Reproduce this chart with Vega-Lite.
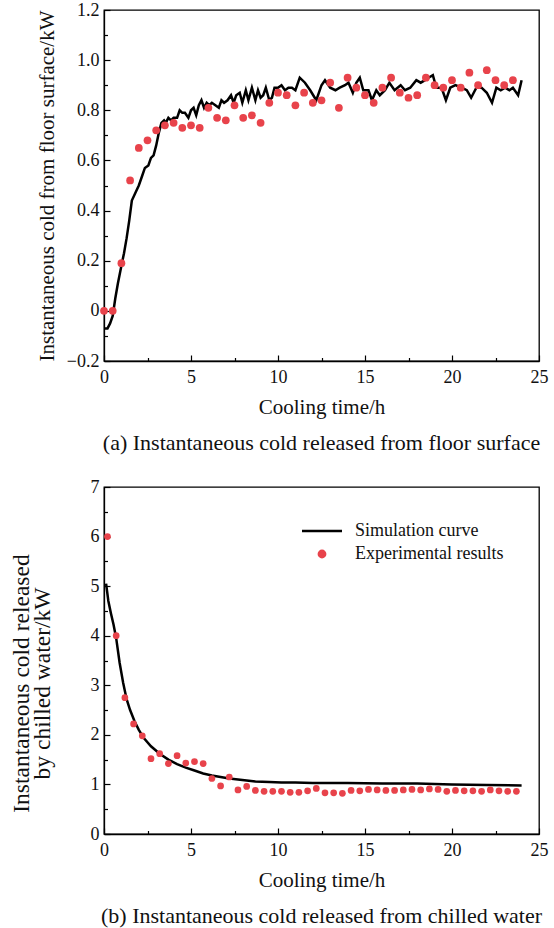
{
  "$schema": "https://vega.github.io/schema/vega-lite/v6.json",
  "padding": {"left": 8, "top": 0, "right": 5, "bottom": 0},
  "spacing": 22,
  "resolve": {"legend": {"color": "independent"}, "scale": {"color": "independent"}},
  "config": {
    "font": "Liberation Serif, Tinos, Times New Roman, DejaVu Serif, serif",
    "view": {"stroke": "black", "strokeWidth": 1.3},
    "axis": {"grid": false, "domainColor": "black", "domainWidth": 1.3, "tickColor": "black", "tickWidth": 1.2, "labelFont": "Liberation Serif, Tinos, Times New Roman, DejaVu Serif, serif", "labelFontSize": 18, "labelColor": "#111", "titleFont": "Liberation Serif, Tinos, Times New Roman, DejaVu Serif, serif", "titleFontSize": 21, "titleFontWeight": "normal", "titleColor": "#111", "labelOverlap": false, "labelFlush": false},
    "legend": {"labelFont": "Liberation Serif, Tinos, Times New Roman, DejaVu Serif, serif"},
    "title": {"font": "Liberation Serif, Tinos, Times New Roman, DejaVu Serif, serif", "fontSize": 22, "fontWeight": "normal", "color": "#111"}
  },
  "datasets": {
    "floor_sim": [
      {"t":0,"q":-0.07},{"t":0.2,"q":-0.07},{"t":0.35,"q":-0.05},{"t":0.5,"q":-0.02},{"t":0.65,"q":0.05},{"t":0.8,"q":0.11},{"t":1.0,"q":0.18},{"t":1.15,"q":0.23},{"t":1.3,"q":0.29},{"t":1.45,"q":0.36},{"t":1.6,"q":0.44},{"t":1.8,"q":0.47},{"t":2.0,"q":0.5},{"t":2.2,"q":0.54},{"t":2.35,"q":0.57},{"t":2.55,"q":0.58},{"t":2.7,"q":0.61},{"t":2.85,"q":0.62},{"t":3.0,"q":0.66},{"t":3.15,"q":0.71},{"t":3.3,"q":0.75},{"t":3.45,"q":0.76},{"t":3.55,"q":0.75},{"t":3.7,"q":0.77},{"t":3.85,"q":0.76},{"t":4.0,"q":0.77},{"t":4.2,"q":0.77},{"t":4.35,"q":0.8},{"t":4.5,"q":0.79},{"t":4.65,"q":0.79},{"t":4.85,"q":0.77},{"t":5.0,"q":0.8},{"t":5.15,"q":0.81},{"t":5.3,"q":0.78},{"t":5.45,"q":0.82},{"t":5.6,"q":0.84},{"t":5.75,"q":0.81},{"t":5.9,"q":0.83},{"t":6.05,"q":0.82},{"t":6.2,"q":0.83},{"t":6.4,"q":0.82},{"t":6.6,"q":0.81},{"t":6.75,"q":0.84},{"t":6.9,"q":0.83},{"t":7.1,"q":0.84},{"t":7.3,"q":0.86},{"t":7.45,"q":0.83},{"t":7.6,"q":0.86},{"t":7.8,"q":0.87},{"t":7.95,"q":0.83},{"t":8.15,"q":0.88},{"t":8.3,"q":0.84},{"t":8.5,"q":0.89},{"t":8.7,"q":0.84},{"t":8.85,"q":0.88},{"t":9.0,"q":0.85},{"t":9.15,"q":0.86},{"t":9.3,"q":0.89},{"t":9.5,"q":0.84},{"t":9.65,"q":0.85},{"t":9.8,"q":0.89},{"t":10.0,"q":0.89},{"t":10.2,"q":0.9},{"t":10.4,"q":0.88},{"t":10.6,"q":0.89},{"t":10.8,"q":0.89},{"t":11.0,"q":0.88},{"t":11.25,"q":0.93},{"t":11.55,"q":0.91},{"t":11.85,"q":0.88},{"t":12.2,"q":0.84},{"t":12.5,"q":0.9},{"t":12.7,"q":0.92},{"t":13.0,"q":0.89},{"t":13.3,"q":0.88},{"t":13.55,"q":0.89},{"t":13.85,"q":0.9},{"t":14.05,"q":0.91},{"t":14.3,"q":0.87},{"t":14.5,"q":0.91},{"t":14.7,"q":0.93},{"t":14.9,"q":0.88},{"t":15.2,"q":0.88},{"t":15.4,"q":0.84},{"t":15.65,"q":0.88},{"t":15.85,"q":0.86},{"t":16.15,"q":0.88},{"t":16.4,"q":0.91},{"t":16.7,"q":0.88},{"t":17.05,"q":0.9},{"t":17.3,"q":0.88},{"t":17.6,"q":0.89},{"t":17.95,"q":0.92},{"t":18.2,"q":0.91},{"t":18.45,"q":0.92},{"t":18.65,"q":0.93},{"t":18.9,"q":0.94},{"t":19.1,"q":0.89},{"t":19.4,"q":0.89},{"t":19.65,"q":0.84},{"t":19.9,"q":0.89},{"t":20.2,"q":0.9},{"t":20.55,"q":0.89},{"t":20.85,"q":0.88},{"t":21.1,"q":0.85},{"t":21.4,"q":0.89},{"t":21.7,"q":0.89},{"t":22.0,"q":0.87},{"t":22.3,"q":0.83},{"t":22.55,"q":0.89},{"t":22.8,"q":0.88},{"t":23.05,"q":0.89},{"t":23.3,"q":0.88},{"t":23.5,"q":0.89},{"t":23.8,"q":0.86},{"t":24.0,"q":0.92}
    ],
    "floor_exp": [
      {"t":0,"q":0},{"t":0.5,"q":0},{"t":1.0,"q":0.19},{"t":1.5,"q":0.52},{"t":2.0,"q":0.65},{"t":2.5,"q":0.68},{"t":3.0,"q":0.72},{"t":3.5,"q":0.74},{"t":4.0,"q":0.75},{"t":4.5,"q":0.73},{"t":5.0,"q":0.74},{"t":5.5,"q":0.73},{"t":6.0,"q":0.81},{"t":6.5,"q":0.77},{"t":7.0,"q":0.76},{"t":7.5,"q":0.82},{"t":8.0,"q":0.77},{"t":8.5,"q":0.78},{"t":9.0,"q":0.75},{"t":9.5,"q":0.83},{"t":10.0,"q":0.87},{"t":10.5,"q":0.86},{"t":11.0,"q":0.82},{"t":11.5,"q":0.87},{"t":12.0,"q":0.83},{"t":12.5,"q":0.84},{"t":13.0,"q":0.91},{"t":13.5,"q":0.81},{"t":14.0,"q":0.93},{"t":14.5,"q":0.89},{"t":15.0,"q":0.86},{"t":15.5,"q":0.83},{"t":16.0,"q":0.89},{"t":16.5,"q":0.93},{"t":17.0,"q":0.87},{"t":17.5,"q":0.85},{"t":18.0,"q":0.86},{"t":18.5,"q":0.93},{"t":19.0,"q":0.9},{"t":19.5,"q":0.89},{"t":20.0,"q":0.92},{"t":20.5,"q":0.89},{"t":21.0,"q":0.95},{"t":21.5,"q":0.9},{"t":22.0,"q":0.96},{"t":22.5,"q":0.92},{"t":23.0,"q":0.9},{"t":23.5,"q":0.92}
    ],
    "water_sim": [
      {"t":0.12,"q":5.05},{"t":0.25,"q":4.7},{"t":0.4,"q":4.45},{"t":0.55,"q":4.22},{"t":0.7,"q":3.95},{"t":0.9,"q":3.45},{"t":1.1,"q":3.05},{"t":1.3,"q":2.72},{"t":1.5,"q":2.5},{"t":1.75,"q":2.28},{"t":2.0,"q":2.1},{"t":2.3,"q":1.93},{"t":2.7,"q":1.77},{"t":3.2,"q":1.62},{"t":3.7,"q":1.5},{"t":4.2,"q":1.41},{"t":4.7,"q":1.34},{"t":5.2,"q":1.28},{"t":5.7,"q":1.22},{"t":6.2,"q":1.18},{"t":6.7,"q":1.15},{"t":7.2,"q":1.12},{"t":7.7,"q":1.1},{"t":8.2,"q":1.08},{"t":8.7,"q":1.06},{"t":9.5,"q":1.05},{"t":10.2,"q":1.04},{"t":11.0,"q":1.04},{"t":12.0,"q":1.03},{"t":14.0,"q":1.03},{"t":16.0,"q":1.02},{"t":18.0,"q":1.02},{"t":20.0,"q":1.0},{"t":22.0,"q":0.99},{"t":24.0,"q":0.98}
    ],
    "water_exp": [
      {"t":0.2,"q":6.0},{"t":0.7,"q":4.0},{"t":1.2,"q":2.75},{"t":1.7,"q":2.22},{"t":2.2,"q":1.98},{"t":2.7,"q":1.52},{"t":3.2,"q":1.62},{"t":3.7,"q":1.42},{"t":4.2,"q":1.58},{"t":4.7,"q":1.43},{"t":5.2,"q":1.46},{"t":5.7,"q":1.42},{"t":6.2,"q":1.12},{"t":6.7,"q":0.97},{"t":7.2,"q":1.15},{"t":7.7,"q":0.89},{"t":8.2,"q":0.96},{"t":8.7,"q":0.88},{"t":9.2,"q":0.86},{"t":9.7,"q":0.86},{"t":10.2,"q":0.86},{"t":10.7,"q":0.84},{"t":11.2,"q":0.84},{"t":11.7,"q":0.87},{"t":12.2,"q":0.92},{"t":12.7,"q":0.83},{"t":13.2,"q":0.83},{"t":13.7,"q":0.82},{"t":14.2,"q":0.88},{"t":14.7,"q":0.87},{"t":15.2,"q":0.9},{"t":15.7,"q":0.89},{"t":16.2,"q":0.88},{"t":16.7,"q":0.88},{"t":17.2,"q":0.89},{"t":17.7,"q":0.9},{"t":18.2,"q":0.89},{"t":18.7,"q":0.91},{"t":19.2,"q":0.9},{"t":19.7,"q":0.86},{"t":20.2,"q":0.88},{"t":20.7,"q":0.87},{"t":21.2,"q":0.87},{"t":21.7,"q":0.86},{"t":22.2,"q":0.89},{"t":22.7,"q":0.87},{"t":23.2,"q":0.86},{"t":23.7,"q":0.86}
    ]
  },
  "vconcat": [
    {
      "width": 435,
      "height": 351,
      "title": {"text": "(a) Instantaneous cold released from floor surface", "orient": "bottom", "offset": 15},
      "encoding": {
        "x": {"field": "t", "type": "quantitative", "scale": {"domain": [0, 25], "nice": false},
          "axis": {"title": "Cooling time/h", "values": [0,2.5,5,7.5,10,12.5,15,17.5,20,22.5,25],
            "labelExpr": "datum.value % 5 === 0 ? datum.label : ''",
            "tickSize": {"condition": {"test": "datum.value % 5 !== 0", "value": -3.5}, "value": -6},
            "labelPadding": 13, "titlePadding": 8}},
        "y": {"field": "q", "type": "quantitative", "scale": {"domain": [-0.2, 1.2], "nice": false, "zero": false},
          "axis": {"title": "Instantaneous cold from floor surface/kW",
            "values": [-0.2,-0.1,0,0.1,0.2,0.3,0.4,0.5,0.6,0.7,0.8,0.9,1.0,1.1,1.2],
            "labelExpr": "abs(round(datum.value*10)) % 2 === 1 ? '' : (datum.value === 0 ? '0' : format(datum.value, '.1f'))",
            "tickSize": {"condition": {"test": "abs(round(datum.value*10)) % 2 === 1", "value": -3.5}, "value": -6},
            "labelPadding": 11, "titlePadding": 9}}
      },
      "layer": [
        {"data": {"name": "floor_sim"}, "mark": {"type": "line", "color": "black", "strokeWidth": 2.5}},
        {"data": {"name": "floor_exp"}, "mark": {"type": "circle", "color": "#e8434b", "size": 60, "opacity": 1}}
      ]
    },
    {
      "width": 435,
      "height": 347,
      "title": {"text": "(b) Instantaneous cold released from chilled water", "orient": "bottom", "offset": 15},
      "encoding": {
        "x": {"field": "t", "type": "quantitative", "scale": {"domain": [0, 25], "nice": false},
          "axis": {"title": "Cooling time/h", "values": [0,2.5,5,7.5,10,12.5,15,17.5,20,22.5,25],
            "labelExpr": "datum.value % 5 === 0 ? datum.label : ''",
            "tickSize": {"condition": {"test": "datum.value % 5 !== 0", "value": -3.5}, "value": -6},
            "labelPadding": 13, "titlePadding": 8}},
        "y": {"field": "q", "type": "quantitative", "scale": {"domain": [0, 7], "nice": false},
          "axis": {"title": ["Instantaneous cold released", "by chilled water/kW"], "titleFontSize": 23.5, "titleLineHeight": 21, "titleY": 196,
            "values": [0,0.5,1,1.5,2,2.5,3,3.5,4,4.5,5,5.5,6,6.5,7],
            "labelExpr": "datum.value % 1 === 0 ? format(datum.value, 'd') : ''",
            "tickSize": {"condition": {"test": "datum.value % 1 !== 0", "value": -3.5}, "value": -6},
            "labelPadding": 11, "titlePadding": 36}}
      },
      "layer": [
        {"data": {"name": "water_sim"}, "mark": {"type": "line", "strokeWidth": 2.5},
          "encoding": {"color": {"datum": "Simulation curve", "type": "nominal",
            "scale": {"domain": ["Simulation curve", "Experimental results"], "range": ["black", "#e8434b"]},
            "legend": {"title": null, "orient": "none", "legendX": 209, "legendY": 35,
              "labelFontSize": 18, "labelColor": "#111",
              "symbolSize": 100, "labelOffset": 24, "rowPadding": 5,
              "encode": {"symbols": {"update": {
                "shape": {"signal": "datum.value === 'Simulation curve' ? 'M-4,0H4' : 'circle'"},
                "stroke": {"signal": "datum.value === 'Simulation curve' ? 'black' : 'transparent'"},
                "fill": {"signal": "datum.value === 'Simulation curve' ? 'transparent' : '#e8434b'"},
                "strokeWidth": {"value": 2.5},
                "size": {"signal": "datum.value === 'Simulation curve' ? 100 : 40"},
                "opacity": {"value": 1}}}}}}}},
        {"data": {"name": "water_exp"}, "mark": {"type": "circle", "size": 45, "opacity": 1},
          "encoding": {"color": {"datum": "Experimental results", "type": "nominal"}}}
      ]
    }
  ]
}
